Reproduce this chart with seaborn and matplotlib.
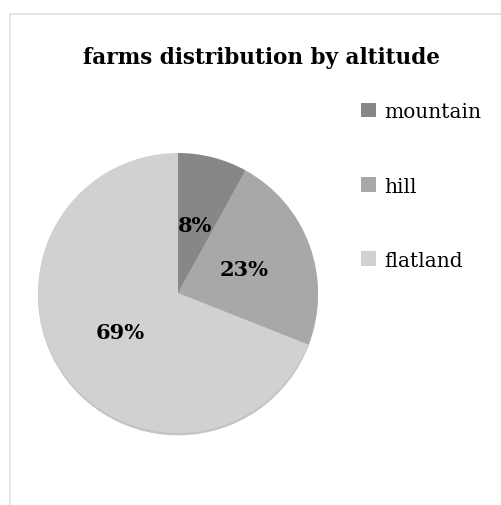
import matplotlib
matplotlib.use("Agg")
import matplotlib.pyplot as plt
import seaborn as sns
from matplotlib.patches import Rectangle

categories = ["mountain", "hill", "flatland"]
shares = [8, 23, 69]
colors = ["#878787", "#a8a8a8", "#d1d1d1"]
title = "farms distribution by altitude"

sns.set_theme(style="white")
plt.rcParams['font.family'] = ['DejaVu Serif']

fig = plt.figure(figsize=(5.01, 5.06), dpi=100)
fig.patch.set_facecolor("white")

# outer border (top and left visible)
fig.add_artist(Rectangle((10 / 501, -0.1), 1.2, (506 - 15) / 506 + 0.1,
                         transform=fig.transFigure, fill=False,
                         edgecolor="#e2e2e2", linewidth=1.2))

ax = fig.add_axes([38 / 501, (506 - 434) / 506, 280 / 501, 280 / 506])
wedges, texts, autotexts = ax.pie(
    shares, colors=colors, startangle=90, counterclock=False,
    autopct=lambda p: f"{p:.0f}%", pctdistance=0.5,
    wedgeprops=dict(linewidth=0),
    textprops=dict(fontsize=15, fontweight="bold", color="black"),
    shadow=dict(ox=0.0, oy=-0.012, shade=0.35),
)
ax.set_aspect("equal")
ax.set_xlim(-1, 1)
ax.set_ylim(-1, 1)
ax.axis("off")

fig.text(261 / 501, 1 - 58 / 506, title, ha="center", va="center",
         fontsize=15.5, fontweight="bold", color="black")

fig.legend(wedges, categories, loc="upper left",
           bbox_to_anchor=(343 / 501, 1 - 85 / 506),
           frameon=False, fontsize=14.5, labelspacing=2.75, labelcolor="black",
           handlelength=0.75, handleheight=0.75, handletextpad=0.4)

fig.savefig("out.png", dpi=100, facecolor="white")
